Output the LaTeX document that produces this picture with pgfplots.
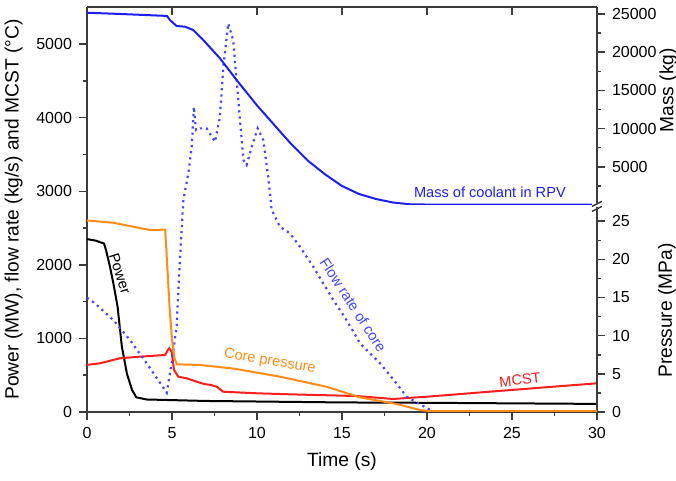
\documentclass[border=0pt]{standalone}
\usepackage{fontspec}
\setmainfont{Liberation Sans}
\usepackage{pgfplots}
\pgfplotsset{compat=1.18}

\definecolor{massblue}{RGB}{30,30,240}
\definecolor{flowblue}{RGB}{70,70,255}
\definecolor{presorange}{RGB}{255,140,20}
\definecolor{mcstred}{RGB}{250,30,30}
\definecolor{axisgray}{RGB}{60,60,60}

\pgfplotsset{
  common/.style={
    scale only axis, width=255pt, at={(0,0)}, anchor=south west,
    xmin=0, xmax=30,
    axis line style={draw=axisgray, line width=0.75pt, -},
    every tick/.style={draw=axisgray, line width=0.75pt},
    major tick length=4pt, minor tick length=2pt,
    tick align=outside,
    scaled y ticks=false,
    ticklabel style={font=\fontsize{8}{10}\selectfont},
    label style={font=\fontsize{9.6}{11}\selectfont},
    /pgf/number format/assume math mode=true,
    /pgf/number format/set thousands separator={},
  },
}
\tikzset{note/.style={font=\fontsize{7.3}{8}\selectfont, inner sep=0pt}}

\begin{document}
\begin{tikzpicture}
% left axis: power, flow rate, MCST
\begin{axis}[common, height=202.5pt, ymin=0, ymax=5505,
  axis x line*=bottom, axis y line*=left,
  xtick={0,5,...,30}, minor x tick num=1,
  ytick={0,1000,...,5000}, minor y tick num=1,
  xlabel={Time (s)},
  ylabel={Power (MW), flow rate (kg/s) and MCST (°C)},
]
\addplot[black, line width=1pt] coordinates {
  (0,2350)(0.5,2330)(1.0,2290)(1.12,2200)(1.35,1975)(1.55,1750)(1.8,1430)
  (2.05,890)(2.35,520)(2.65,300)(2.9,200)(3.5,170)(7,150)(15,130)(20,125)(30,110)
};
\addplot[mcstred, line width=1pt] coordinates {
  (0,640)(0.76,662)(1.94,730)(3.1,752)(4.6,775)(4.75,840)(4.84,866)(4.98,820)
  (5.12,571)(5.37,480)(5.86,458)(6.45,412)(6.9,380)(7.3,367)(7.63,344)(8.0,276)
  (10,254)(12,240)(15.86,217)(18,177)(20,208)(25,300)(30,390)
};
\addplot[flowblue, line width=1.1pt, dotted] coordinates {
  (0,1553)(0.47,1477)(1.55,1250)(2.53,978)(3.51,662)(4.69,262)(4.98,662)(5.27,1159)
  (5.45,2000)(5.67,2881)(5.96,3244)(6.16,3605)(6.29,4149)(6.41,3832)(6.65,3855)
  (7.04,3855)(7.53,3673)(7.82,4013)(8.02,4693)(8.31,5281)(8.6,5055)(8.9,4240)
  (9.2,3425)(9.39,3357)(9.69,3605)(10.04,3855)(10.37,3697)(10.66,3198)(10.86,2750)
  (11.35,2518)(11.94,2428)(12.53,2246)(13.31,1975)(14.49,1522)(15.27,1250)
  (16.06,934)(17.24,662)(18.2,390)(18.8,208)(20.2,27)
};
\node[note, rotate=-72] at (axis cs:1.94,1880) {Power};
\node[note, presorange, rotate=-9] at (axis cs:10.76,684) {Core pressure};
\node[note, flowblue, rotate=-57] at (axis cs:15.66,1454) {Flow rate of core};
\node[note, mcstred, rotate=6] at (axis cs:25.47,435) {MCST};
\node[note, massblue] at (axis cs:23.7,2980) {Mass of coolant in RPV};
\end{axis}

% top ticks pointing inward
\begin{axis}[common, height=202.5pt, ymin=0, ymax=1,
  axis x line*=top, axis y line=none,
  xtick={5,10,...,25}, xticklabels={}, tick align=inside,
]
\end{axis}

% right lower axis: pressure
\begin{axis}[common, height=103.5pt, ymin=0, ymax=27.13,
  axis x line=none, axis y line*=right,
  ytick={0,5,...,25}, minor y tick num=1,
  ylabel={Pressure (MPa)},
  ylabel style={at={(axis description cs:1.137,0.49)}, anchor=center},
]
\addplot[presorange, line width=1pt] coordinates {
  (0,25.1)(1.55,24.8)(3.7,23.85)(4.6,23.9)(4.7,20)(4.85,14)(5.0,9.5)(5.15,7)
  (5.3,6.25)(6.65,6.16)(8.6,5.7)(11.35,4.63)(14.1,3.3)(16.06,1.92)(18.2,1.05)
  (19.6,0.26)(20.2,0.1)(30,0.1)
};
\end{axis}

% right upper axis: mass
\begin{axis}[common, at={(0,103.5pt)}, height=99pt, ymin=0, ymax=25918,
  axis x line=none, axis y line*=right,
  ytick={5000,10000,...,25000}, minor y tick num=1,
  extra y ticks={2500}, extra y tick labels={},
  extra y tick style={major tick length=2pt},
  ylabel={Mass (kg)},
  ylabel style={at={(axis description cs:1.14,0.58)}, anchor=center},
]
\addplot[massblue, line width=1pt] coordinates {
  (0,25170)(2,25000)(4.7,24750)(4.88,24217)(5.27,23431)(5.76,23340)(6.25,22907)
  (6.84,21600)(7.82,19203)(8.8,16363)(9.98,13090)(11.45,9385)(12,8011)
  (13,5786)(14,4019)(15,2487)(16,1440)(17,785)(18,327)(19,92)
  (20,60)(30,60)
};
\end{axis}

% axis break on the right
\fill[white] (252.5pt,102.3pt) rectangle (257.5pt,104.3pt);
\draw[axisgray, line width=0.75pt] (252.5pt,102.8pt) -- (257.5pt,105.3pt);
\draw[axisgray, line width=0.75pt] (252.5pt,100.3pt) -- (257.5pt,102.8pt);

\pgfresetboundingbox
\path (-43.5pt,-34.5pt) rectangle (294.5pt,206pt);
\end{tikzpicture}
\end{document}
